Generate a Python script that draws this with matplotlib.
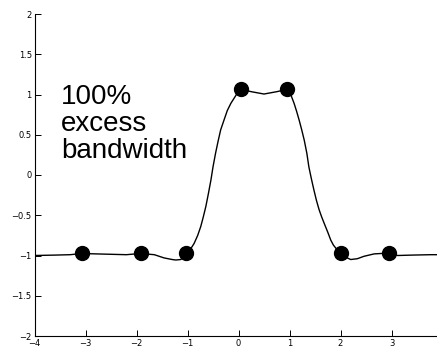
import matplotlib
matplotlib.use('Agg')
import matplotlib.pyplot as plt

# waveform
t_curve = [-4.0, -3.6, -3.3, -3.07, -2.8, -2.5, -2.2, -1.92, -1.65, -1.46, -1.3, -1.23,
           -1.13, -1.03, -0.95, -0.87, -0.8, -0.74, -0.69, -0.64, -0.59, -0.54, -0.5, -0.45,
           -0.4, -0.35, -0.28, -0.22, -0.15, -0.09, -0.03,
           0.045, 0.25, 0.5, 0.75, 0.96, 1.03, 1.09, 1.14, 1.19, 1.24, 1.29, 1.34, 1.38, 1.43,
           1.48, 1.53, 1.58, 1.63, 1.68, 1.75, 1.81, 1.86,
           1.91, 2.0, 2.1, 2.2, 2.33, 2.46, 2.66, 2.8, 2.95, 3.12, 3.4, 3.77, 3.9]
y_curve = [-1.0, -0.995, -0.99, -0.975, -0.98, -0.985, -0.99, -0.975, -0.99, -1.03, -1.05, -1.056,
           -1.05, -0.975, -0.93, -0.85, -0.75, -0.64, -0.52, -0.39, -0.23, -0.06, 0.1, 0.27,
           0.42, 0.56, 0.69, 0.80, 0.89, 0.95, 1.01,
           1.065, 1.035, 1.006, 1.035, 1.065, 0.99, 0.89, 0.79, 0.68, 0.56, 0.43, 0.27, 0.10, -0.05,
           -0.19, -0.32, -0.43, -0.52, -0.60, -0.71, -0.81, -0.87,
           -0.91, -0.97, -1.02, -1.05, -1.04, -1.01, -0.98, -0.975, -0.975, -1.0, -0.995, -0.99, -0.99]

# sample points (dots)
t_samp = [-3.07, -1.92, -1.03, 0.045, 0.96, 2.0, 2.95]
y_samp = [-0.97, -0.97, -0.97, 1.065, 1.065, -0.97, -0.97]

xticks = [-4, -3, -2, -1, 0, 1, 2, 3]
yticks = [-2, -1.5, -1, -0.5, 0, 0.5, 1, 1.5, 2]

W, H = 437, 347
fig = plt.figure(figsize=(W / 100, H / 100), dpi=100)
left, right, top, bottom = 34.5, 437, 14, 336
ax = fig.add_axes([left / W, (H - bottom) / H, (right - left) / W, (bottom - top) / H])

ax.plot(t_curve, y_curve, color='black', linewidth=1.0)
ax.plot(t_samp, y_samp, 'o', color='black', markersize=10)

ax.set_xlim(-4, -4 + (right - left) / 51.0)
ax.set_ylim(-2, 2)
ax.set_xticks(xticks)
ax.set_yticks(yticks)
ax.set_xticklabels(['\u2212' + str(-v) if v < 0 else str(v) for v in xticks])
ax.set_yticklabels(['\u2212' + ('%g' % -v) if v < 0 else '%g' % v for v in yticks])
ax.tick_params(direction='in', length=4, width=0.7, labelsize=6, pad=2)
for s in ['top', 'right']:
    ax.spines[s].set_visible(False)
for s in ['left', 'bottom']:
    ax.spines[s].set_linewidth(0.8)

ax.text(-3.48, 1.13, '100%\nexcess\nbandwidth', fontsize=20, family='Liberation Sans',
        va='top', ha='left', linespacing=1.05)

fig.savefig('out.png', dpi=100)
